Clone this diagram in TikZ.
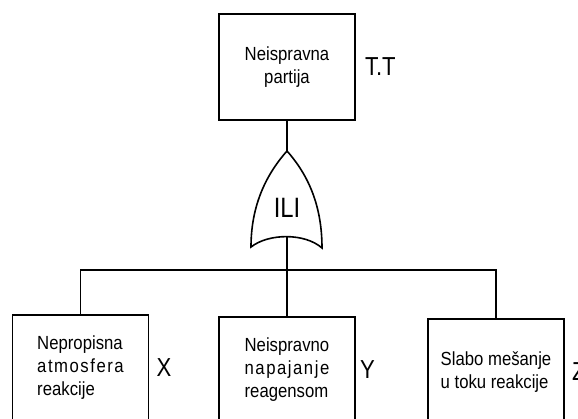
\documentclass[tikz,border=0pt]{standalone}
\usepackage{fontspec}
\setmainfont{Liberation Sans}
\newfontfamily\boxfont[FakeStretch=0.88]{Liberation Sans}
\newfontfamily\widefont[FakeStretch=0.88,LetterSpace=8]{Liberation Sans}
\newfontfamily\lblfont[FakeStretch=0.85]{Liberation Sans}
\usetikzlibrary{positioning}
\tikzset{
  event/.style={draw, line width=1.6pt, minimum width=136pt, minimum height=106pt,
    anchor=north, align=left, font=\boxfont\fontsize{19}{23}\selectfont},
  lbl/.style={inner sep=0pt, anchor=west, font=\lblfont\fontsize{26}{26}\selectfont},
  gate/.style={line width=1.6pt},
}
\begin{document}
\begin{tikzpicture}[x=1pt,y=-1pt]
  \useasboundingbox (0,0) rectangle (578,418);
  \clip (0,0) rectangle (578,418);
  \node[event, align=center] (top) at (287,13) {Neispravna\\partija};
  \node[event] (x) at (80.5,314) {Nepropisna\\{\widefont atmosfera}\\reakcije};
  \node[event] (y) at (287,316) {Neispravno\\{\widefont napajanje}\\reagensom};
  \node[event] (z) at (496,318) {Slabo mešanje\\u toku reakcije};
  \node[lbl, right=9pt of top] (tt) {T.T};
  \node[lbl, right=7pt of x] (lx) {X};
  \node[lbl, right=4pt of y] (ly) {Y};
  \node[lbl, right=7pt of z] (lz) {Z};
  \coordinate (gtop) at (287,151);
  \coordinate (gbot) at (287,237);
  \coordinate (bar) at (287,270);
  \draw[gate] (gtop) .. controls (263,178) and (251,210) .. (251,247)
    .. controls (269,233) and (305,233) .. (322,248)
    .. controls (322,210) and (311,178) .. (gtop);
  \node[font=\lblfont\fontsize{28}{28}\selectfont, inner sep=0pt] (ili) at (287,208) {ILI};
  \begin{scope}[-, line width=1.6pt]
    \draw (top.south) to (gtop);
    \draw (gbot) to (y.north);
    \draw (x.north) |- (bar) -| (z.north);
  \end{scope}
\end{tikzpicture}
\end{document}
